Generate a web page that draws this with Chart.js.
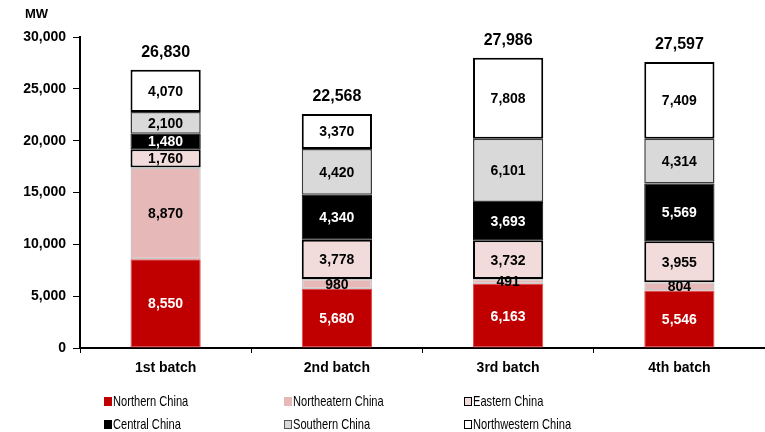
<!DOCTYPE html>
<html>
<head>
<meta charset="utf-8">
<script src="https://cdn.jsdelivr.net/npm/chart.js@4/dist/chart.umd.min.js"></script>
<style>
  html, body { margin: 0; padding: 0; background: #fff; }
  #wrap { position: relative; width: 765px; height: 432px; }
  #chart { position: absolute; left: 0; top: 0; }
  .lg { position: absolute; font: 15px "Liberation Sans", Arial, sans-serif; color: #000; line-height: 16px; white-space: nowrap; }
  .lg i { position: absolute; left: 0; top: 3px; width: 8px; height: 9px; box-sizing: border-box; }
  .lg span { position: absolute; left: 9px; top: -1px; transform: scaleX(0.74); transform-origin: 0 50%; }
</style>
</head>
<body>
<div id="wrap">
  <canvas id="chart" width="765" height="432"></canvas>
</div>
<script>
// Capacity by batch and region (MW)
const batches = ['1st batch', '2nd batch', '3rd batch', '4th batch'];
const northern     = [8550, 5680, 6163, 5546];
const northeastern = [8870,  980,  491,  804];
const eastern      = [1760, 3778, 3732, 3955];
const central      = [1480, 4340, 3693, 5569];
const southern     = [2100, 4420, 6101, 4314];
const northwestern = [4070, 3370, 7808, 7409];
const totals       = [26830, 22568, 27986, 27597];
const yTicks       = [0, 5000, 10000, 15000, 20000, 25000, 30000];

const fmt = v => v.toLocaleString('en-US');

const series = [
  { label: 'Northern China',    data: northern,     bg: '#c00000', border: '#e04a4a', bw: 1,   text: '#fff' },
  { label: 'Northeatern China', data: northeastern, bg: '#e6b8b7', border: '#c8c8c8', bw: 1.5, text: '#000' },
  { label: 'Eastern China',     data: eastern,      bg: '#f2dcdb', border: '#000000', bw: 2,   text: '#000' },
  { label: 'Central China',     data: central,      bg: '#000000', border: '#000000', bw: 1,   text: '#fff' },
  { label: 'Southern China',    data: southern,     bg: '#d9d9d9', border: '#3a3a3a', bw: 1.5, text: '#000' },
  { label: 'Northwestern China',data: northwestern, bg: '#ffffff', border: '#000000', bw: 2,   text: '#000' }
];

// Value labels inside each segment, totals above each stack, unit caption
const labelPlugin = {
  id: 'labels',
  afterDatasetsDraw(chart) {
    const ctx = chart.ctx;
    ctx.save();
    ctx.textAlign = 'center';
    ctx.textBaseline = 'middle';
    ctx.font = 'bold 14px "Liberation Sans", Arial, sans-serif';
    chart.data.datasets.forEach((ds, di) => {
      const meta = chart.getDatasetMeta(di);
      meta.data.forEach((bar, i) => {
        const p = bar.getProps(['x', 'y', 'base'], true);
        ctx.fillStyle = series[di].text;
        ctx.fillText(fmt(ds.data[i]), p.x, (p.y + p.base) / 2 + 1);
      });
    });
    const top = chart.getDatasetMeta(chart.data.datasets.length - 1);
    ctx.fillStyle = '#000';
    ctx.font = 'bold 16px "Liberation Sans", Arial, sans-serif';
    top.data.forEach((bar, i) => {
      ctx.fillText(fmt(totals[i]), bar.x, chart.scales.y.getPixelForValue(totals[i]) - 17);
    });
    ctx.font = 'bold 13px "Liberation Sans", Arial, sans-serif';
    ctx.textAlign = 'left';
    ctx.fillText('MW', 25, 14);
    ctx.restore();
  }
};

new Chart(document.getElementById('chart'), {
  type: 'bar',
  data: {
    labels: batches,
    datasets: series.map(s => ({
      label: s.label,
      data: s.data,
      backgroundColor: s.bg,
      borderColor: s.border,
      borderWidth: s.bw,
      borderSkipped: false,
      barPercentage: 0.41,
      categoryPercentage: 1
    }))
  },
  options: {
    responsive: false,
    devicePixelRatio: 1,
    animation: false,
    layout: { padding: { top: 37, right: 0, bottom: 52, left: 0 } },
    plugins: { legend: { display: false }, tooltip: { enabled: false } },
    scales: {
      x: {
        stacked: true,
        offset: true,
        grid: { drawOnChartArea: false, color: '#000', tickLength: 5, lineWidth: 1, offset: true },
        border: { color: '#000', width: 2 },
        ticks: { color: '#000', font: { family: '"Liberation Sans", Arial, sans-serif', size: 14, weight: 'bold' }, padding: 7 },
        afterFit: s => { s.height = 32; }
      },
      y: {
        stacked: true,
        min: 0,
        max: 30000,
        afterBuildTicks: s => { s.ticks = yTicks.map(v => ({ value: v })); },
        grid: { drawOnChartArea: false, color: '#000', tickLength: 7, lineWidth: 1 },
        border: { color: '#000', width: 2 },
        ticks: { color: '#000', font: { family: '"Liberation Sans", Arial, sans-serif', size: 14, weight: 'bold' }, padding: 7, callback: v => fmt(v) },
        afterFit: s => { s.width = 80; }
      }
    }
  },
  plugins: [labelPlugin]
});

// Legend in three columns, two rows
const wrap = document.getElementById('wrap');
const colX = [104, 284, 464];
const rowY = [394, 417];
series.forEach((s, i) => {
  const d = document.createElement('div');
  d.className = 'lg';
  d.style.left = colX[i % 3] + 'px';
  d.style.top = rowY[Math.floor(i / 3)] + 'px';
  const m = document.createElement('i');
  m.style.background = s.bg;
  if (s.label === 'Eastern China' || s.label === 'Northwestern China') m.style.border = '1.5px solid #000';
  if (s.label === 'Southern China') m.style.border = '1.5px solid #555';
  const t = document.createElement('span');
  t.textContent = s.label;
  d.appendChild(m); d.appendChild(t);
  wrap.appendChild(d);
});
</script>
</body>
</html>
